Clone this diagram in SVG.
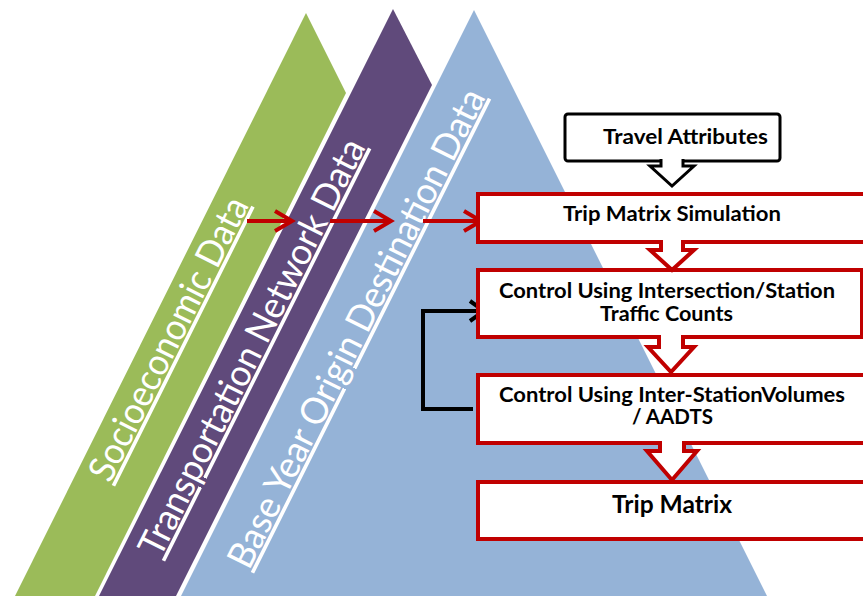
<svg xmlns="http://www.w3.org/2000/svg" width="863" height="596" viewBox="0 0 863 596">
  <defs>
    <style>
      .band-text { font-family: Lato, "Open Sans", "Liberation Sans", sans-serif; font-size: 37px; fill: #ffffff; text-decoration: underline; }
      .box-red { fill: #ffffff; stroke: #c00000; stroke-width: 4; }
      .box-black { fill: #ffffff; stroke: #000000; stroke-width: 3; }
      .label { font-family: Lato, "Open Sans", "Liberation Sans", sans-serif; font-weight: bold; font-size: 20px; fill: #000000; text-anchor: middle; }
      .blk-red { fill: #ffffff; stroke: #c00000; stroke-width: 4; stroke-linejoin: miter; }
      .blk-black { fill: #ffffff; stroke: #000000; stroke-width: 3; stroke-linejoin: miter; }
      .conn-red { fill: none; stroke: #c00000; stroke-width: 4; }
      .conn-black { fill: none; stroke: #000000; stroke-width: 4; stroke-linejoin: miter; }
    </style>
    <marker id="ah-red" viewBox="0 0 24 24" refX="20" refY="12" markerWidth="24" markerHeight="24" markerUnits="userSpaceOnUse" orient="auto">
      <path d="M3,2 L20,12 L3,22" fill="none" stroke="#c00000" stroke-width="4"/>
    </marker>
    <marker id="ah-black" viewBox="0 0 24 24" refX="20" refY="12" markerWidth="24" markerHeight="24" markerUnits="userSpaceOnUse" orient="auto">
      <path d="M6,2 L20,12 L6,22" fill="none" stroke="#000000" stroke-width="4"/>
    </marker>
  </defs>

  <rect x="0" y="0" width="863" height="596" fill="#ffffff"/>

  <g id="band-base-year">
    <polygon points="474,10 767,596 181,596" fill="#95b3d7"/>
    <text class="band-text" x="249" y="571" transform="rotate(-63.43 249 571)" textLength="530" lengthAdjust="spacingAndGlyphs">Base Year Origin Destination Data</text>
  </g>

  <g id="band-transportation">
    <polygon points="393,9 432,85 176,596 99,596" fill="#604a7b"/>
    <text class="band-text" x="160" y="559" transform="rotate(-63.43 160 559)" textLength="461" lengthAdjust="spacingAndGlyphs">Transportation Network Data</text>
  </g>

  <g id="band-socioeconomic">
    <polygon points="306,13 346,93 95,596 15,596" fill="#9bbb59"/>
    <text class="band-text" x="110" y="484" transform="rotate(-63.43 110 484)" textLength="312" lengthAdjust="spacingAndGlyphs">Socioeconomic Data</text>
  </g>

  <g id="connectors">
    <line class="conn-red" x1="247" y1="221" x2="292" y2="221" marker-end="url(#ah-red)"/>
    <line class="conn-red" x1="330" y1="221" x2="391" y2="221" marker-end="url(#ah-red)"/>
    <line class="conn-red" x1="423" y1="221" x2="481" y2="221" marker-end="url(#ah-red)"/>
    <polyline class="conn-black" points="473,409 423,409 423,311 484,311" marker-end="url(#ah-black)"/>
  </g>

  <g id="travel-attributes">
    <rect class="box-black" x="565" y="114" width="215" height="47" rx="3"/>
    <text class="label" x="685.5" y="144" textLength="165" lengthAdjust="spacingAndGlyphs">Travel Attributes</text>
  </g>

  <g id="trip-matrix-simulation">
    <rect class="box-red" x="478" y="194" width="420" height="48"/>
    <text class="label" x="672" y="221" textLength="218" lengthAdjust="spacingAndGlyphs">Trip Matrix Simulation</text>
  </g>

  <g id="control-intersection">
    <rect class="box-red" x="478" y="270" width="384" height="67"/>
    <text class="label" x="667" y="298" textLength="336" lengthAdjust="spacingAndGlyphs">Control Using Intersection/Station</text>
    <text class="label" x="666.5" y="321" textLength="133" lengthAdjust="spacingAndGlyphs">Traffic Counts</text>
  </g>

  <g id="control-interstation">
    <rect class="box-red" x="478" y="375" width="420" height="68"/>
    <text class="label" x="672" y="402" textLength="346" lengthAdjust="spacingAndGlyphs">Control Using Inter-StationVolumes</text>
    <text class="label" x="672.5" y="424" textLength="81" lengthAdjust="spacingAndGlyphs">/ AADTS</text>
  </g>

  <g id="trip-matrix">
    <rect class="box-red" x="478" y="482" width="420" height="57"/>
    <text class="label" x="672" y="513" style="font-size:24px" textLength="120" lengthAdjust="spacingAndGlyphs">Trip Matrix</text>
  </g>

  <g id="block-arrows">
    <path class="blk-black" d="M661,159 L661,166 L650,166 L672,186 L694,166 L683,166 L683,159"/>
    <path class="blk-red" d="M661,240 L661,250 L650,250 L672,270 L694,250 L683,250 L683,240"/>
    <path class="blk-red" d="M659,335 L659,347 L648,347 L671,372 L694,347 L683,347 L683,335"/>
    <path class="blk-red" d="M660,441 L660,451 L647,451 L672,480 L697,451 L684,451 L684,441"/>
  </g>
</svg>
